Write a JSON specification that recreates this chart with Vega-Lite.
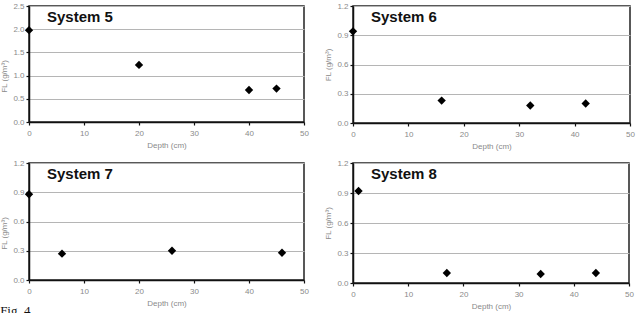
{
  "$schema": "https://vega.github.io/schema/vega-lite/v6.json",
  "padding": {"left": 0, "top": 1, "right": 4, "bottom": 0},
  "background": "white",
  "title": {
    "text": "Fig. 4",
    "orient": "bottom",
    "anchor": "start",
    "frame": "bounds",
    "dx": 0,
    "baseline": "top",
    "font": "Liberation Serif",
    "fontSize": 13,
    "fontWeight": "normal",
    "color": "#111",
    "offset": -6
  },
  "data": {
    "values": [
      {"system": "System 5", "depth": 0, "fl": 1.98},
      {"system": "System 5", "depth": 20, "fl": 1.23},
      {"system": "System 5", "depth": 40, "fl": 0.69},
      {"system": "System 5", "depth": 45, "fl": 0.72},
      {"system": "System 6", "depth": 0, "fl": 0.94},
      {"system": "System 6", "depth": 16, "fl": 0.23},
      {"system": "System 6", "depth": 32, "fl": 0.18},
      {"system": "System 6", "depth": 42, "fl": 0.2},
      {"system": "System 7", "depth": 0, "fl": 0.88},
      {"system": "System 7", "depth": 6, "fl": 0.27},
      {"system": "System 7", "depth": 26, "fl": 0.3},
      {"system": "System 7", "depth": 46, "fl": 0.28},
      {"system": "System 8", "depth": 1, "fl": 0.92},
      {"system": "System 8", "depth": 17, "fl": 0.1},
      {"system": "System 8", "depth": 34, "fl": 0.09},
      {"system": "System 8", "depth": 44, "fl": 0.1}
    ]
  },
  "columns": 2,
  "bounds": "flush",
  "align": "each",
  "spacing": {"row": 40, "column": 49},
  "concat": [
    {
      "width": 275, "height": 116,
      "title": {"text": "System 5"},
      "transform": [{"filter": "datum.system === 'System 5'"}],
      "mark": {"type": "point", "shape": "diamond", "filled": true, "color": "black", "opacity": 1, "size": 70},
      "encoding": {
        "x": {"field": "depth", "type": "quantitative", "scale": {"domain": [0, 50], "nice": false}, "axis": {"title": "Depth (cm)", "values": [0, 10, 20, 30, 40, 50]}},
        "y": {"field": "fl", "type": "quantitative", "scale": {"domain": [0, 2.5], "nice": false}, "axis": {"title": "FL (g/m³)", "titleY": 70, "values": [0, 0.5, 1, 1.5, 2, 2.5], "format": ".1f"}}
      }
    },
    {
      "width": 277, "height": 117,
      "title": {"text": "System 6"},
      "transform": [{"filter": "datum.system === 'System 6'"}],
      "mark": {"type": "point", "shape": "diamond", "filled": true, "color": "black", "opacity": 1, "size": 70},
      "encoding": {
        "x": {"field": "depth", "type": "quantitative", "scale": {"domain": [0, 50], "nice": false}, "axis": {"title": "Depth (cm)", "values": [0, 10, 20, 30, 40, 50]}},
        "y": {"field": "fl", "type": "quantitative", "scale": {"domain": [0, 1.2], "nice": false}, "axis": {"title": "FL (g/m³)", "values": [0, 0.3, 0.6, 0.9, 1.2], "format": ".1f"}}
      }
    },
    {
      "width": 275, "height": 117,
      "title": {"text": "System 7"},
      "transform": [{"filter": "datum.system === 'System 7'"}],
      "mark": {"type": "point", "shape": "diamond", "filled": true, "color": "black", "opacity": 1, "size": 70},
      "encoding": {
        "x": {"field": "depth", "type": "quantitative", "scale": {"domain": [0, 50], "nice": false}, "axis": {"title": "Depth (cm)", "values": [0, 10, 20, 30, 40, 50]}},
        "y": {"field": "fl", "type": "quantitative", "scale": {"domain": [0, 1.2], "nice": false}, "axis": {"title": "FL (g/m³)", "titleY": 70, "values": [0, 0.3, 0.6, 0.9, 1.2], "format": ".1f"}}
      }
    },
    {
      "width": 276, "height": 120,
      "title": {"text": "System 8"},
      "transform": [{"filter": "datum.system === 'System 8'"}],
      "mark": {"type": "point", "shape": "diamond", "filled": true, "color": "black", "opacity": 1, "size": 70},
      "encoding": {
        "x": {"field": "depth", "type": "quantitative", "scale": {"domain": [0, 50], "nice": false}, "axis": {"title": "Depth (cm)", "values": [0, 10, 20, 30, 40, 50]}},
        "y": {"field": "fl", "type": "quantitative", "scale": {"domain": [0, 1.2], "nice": false}, "axis": {"title": "FL (g/m³)", "values": [0, 0.3, 0.6, 0.9, 1.2], "format": ".1f"}}
      }
    }
  ],
  "config": {
    "view": {"stroke": "#222", "strokeWidth": 1.5},
    "title": {
      "anchor": "start",
      "frame": "group",
      "font": "Liberation Sans",
      "fontSize": 15,
      "fontWeight": "bold",
      "color": "#111",
      "baseline": "alphabetic",
      "offset": -23,
      "dx": 18
    },
    "axis": {
      "labelFont": "Liberation Sans",
      "labelFontSize": 8,
      "labelColor": "#8a8a8a",
      "labelFlush": false,
      "labelOverlap": false,
      "titleFont": "Liberation Sans",
      "titleFontSize": 8,
      "titleFontWeight": "normal",
      "titleColor": "#8a8a8a",
      "domainColor": "#111",
      "domainWidth": 1.5,
      "tickColor": "#111",
      "tickWidth": 1.2,
      "tickSize": 3,
      "grid": false
    },
    "axisX": {"labelPadding": 4, "titlePadding": 4},
    "axisY": {"labelPadding": 2, "titlePadding": 4, "grid": true, "gridColor": "#b5b5b5", "gridWidth": 1}
  }
}
